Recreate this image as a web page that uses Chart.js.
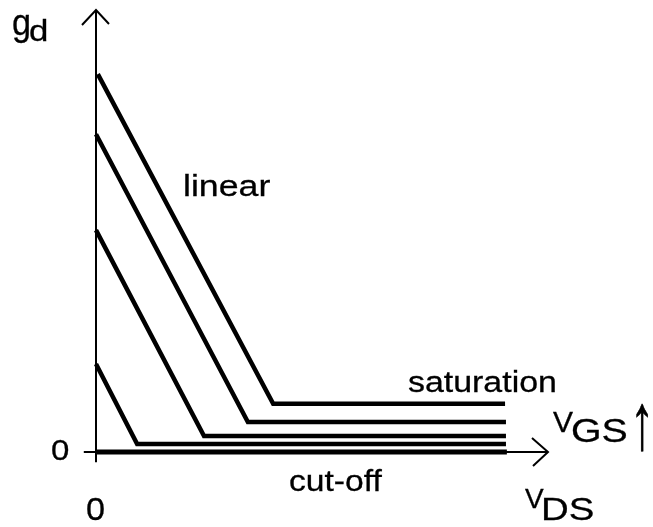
<!DOCTYPE html>
<html>
<head>
<meta charset="utf-8">
<script src="https://cdn.jsdelivr.net/npm/chart.js@4/dist/chart.umd.min.js"></script>
<style>
  html, body { margin: 0; padding: 0; background: #ffffff; }
  #wrap { width: 653px; height: 527px; position: relative; }
</style>
</head>
<body>
<div id="wrap"><canvas id="c" width="653" height="527"></canvas></div>
<script>
// ---- data (schematic units: V_DS and g_d on 0..100 scales) ----
const curveNames = ['VGS4', 'VGS3', 'VGS2', 'VGS1', 'cut-off'];
const curve1X = [0.4, 39.2, 90.5];
const curve1Y = [85.5, 10.9, 10.9];
const curve2X = [0, 33.6, 90.7];
const curve2Y = [71.9, 6.8, 6.8];
const curve3X = [0, 23.9, 90.7];
const curve3Y = [50.2, 3.6, 3.6];
const curve4X = [0, 9.1, 90.7];
const curve4Y = [19.9, 1.8, 1.8];
const cutoffX = [0, 90.9];
const cutoffY = [0, 0];
const axisXRange = [-2.7, 100];
const axisYRange = [-2.3, 100];
const tickLabels = ['0', '0'];

const curvesX = [curve1X, curve2X, curve3X, curve4X, cutoffX];
const curvesY = [curve1Y, curve2Y, curve3Y, curve4Y, cutoffY];

const FONT = '"Liberation Sans", Arial, Helvetica, sans-serif';

function txt(ctx, s, x, y, size, sx, sy) {
  ctx.save();
  ctx.font = size + 'px ' + FONT;
  ctx.fillStyle = '#000';
  ctx.strokeStyle = '#000';
  ctx.lineWidth = 0.3;
  ctx.textBaseline = 'alphabetic';
  ctx.textAlign = 'left';
  ctx.translate(x, y);
  ctx.scale(sx, sy || 1);
  ctx.fillText(s, 0, 0);
  ctx.strokeText(s, 0, 0);
  ctx.restore();
}

const axesPlugin = {
  id: 'schematicAxes',
  beforeDatasetsDraw(chart) {
    const ctx = chart.ctx;
    const xs = chart.scales.x, ys = chart.scales.y;
    const x0 = xs.getPixelForValue(0), y0 = ys.getPixelForValue(0);
    const xTip = xs.getPixelForValue(axisXRange[1]);
    const yTip = ys.getPixelForValue(axisYRange[1]);
    ctx.save();
    ctx.strokeStyle = '#000';
    ctx.lineWidth = 2;
    ctx.lineCap = 'butt';
    ctx.beginPath();
    ctx.moveTo(x0, ys.getPixelForValue(axisYRange[0]));
    ctx.lineTo(x0, yTip);
    ctx.moveTo(xs.getPixelForValue(axisXRange[0]), y0);
    ctx.lineTo(xTip, y0);
    ctx.stroke();
    ctx.beginPath();
    ctx.moveTo(x0 - 14, yTip + 15);
    ctx.lineTo(x0, yTip);
    ctx.lineTo(x0 + 13, yTip + 14);
    ctx.moveTo(xTip - 16, y0 - 14);
    ctx.lineTo(xTip, y0);
    ctx.lineTo(xTip - 15, y0 + 14);
    ctx.stroke();
    ctx.restore();
  },
  afterDraw(chart) {
    const ctx = chart.ctx;
    const xs = chart.scales.x, ys = chart.scales.y;
    const x0 = xs.getPixelForValue(0), y0 = ys.getPixelForValue(0);
    // axis titles
    txt(ctx, 'g', 12, 35, 36, 0.95);
    txt(ctx, 'd', 29, 41, 29, 1.2);
    txt(ctx, 'V', 525, 508, 28, 1.0);
    txt(ctx, 'DS', 541, 520, 32, 1.2);
    // tick labels at origin
    txt(ctx, tickLabels[0], x0 - 45, y0 + 8, 30, 1.1);
    txt(ctx, tickLabels[1], x0 - 10, 520, 32, 1.07);
    // region labels
    txt(ctx, 'linear', 183, 196, 30, 1.19);
    txt(ctx, 'saturation', 408, 392, 30, 1.13);
    txt(ctx, 'cut-off', 289, 491, 30, 1.12);
    // V_GS increasing
    txt(ctx, 'V', 553, 432, 30, 1.0);
    txt(ctx, 'GS', 571, 442, 33, 1.19);
    txt(ctx, '\u2191', 630, 449, 49, 1.0, 1.63);
  }
};

const datasets = curvesX.map((xsArr, i) => ({
  label: curveNames[i],
  data: xsArr.map((x, j) => ({ x: x, y: curvesY[i][j] })),
  borderColor: '#000',
  backgroundColor: '#000',
  borderWidth: i === 4 ? 5 : 4.5,
  pointRadius: 0,
  tension: 0,
  fill: false,
  clip: false,
  borderJoinStyle: 'miter',
  borderCapStyle: 'butt'
}));

new Chart(document.getElementById('c'), {
  type: 'line',
  data: { datasets: datasets },
  options: {
    responsive: false,
    animation: false,
    devicePixelRatio: 1,
    layout: { padding: { left: 96, right: 105, top: 10, bottom: 75 } },
    plugins: { legend: { display: false }, tooltip: { enabled: false } },
    scales: {
      x: { type: 'linear', min: 0, max: 100, display: false },
      y: { type: 'linear', min: 0, max: 100, display: false }
    }
  },
  plugins: [axesPlugin]
});
</script>
</body>
</html>
